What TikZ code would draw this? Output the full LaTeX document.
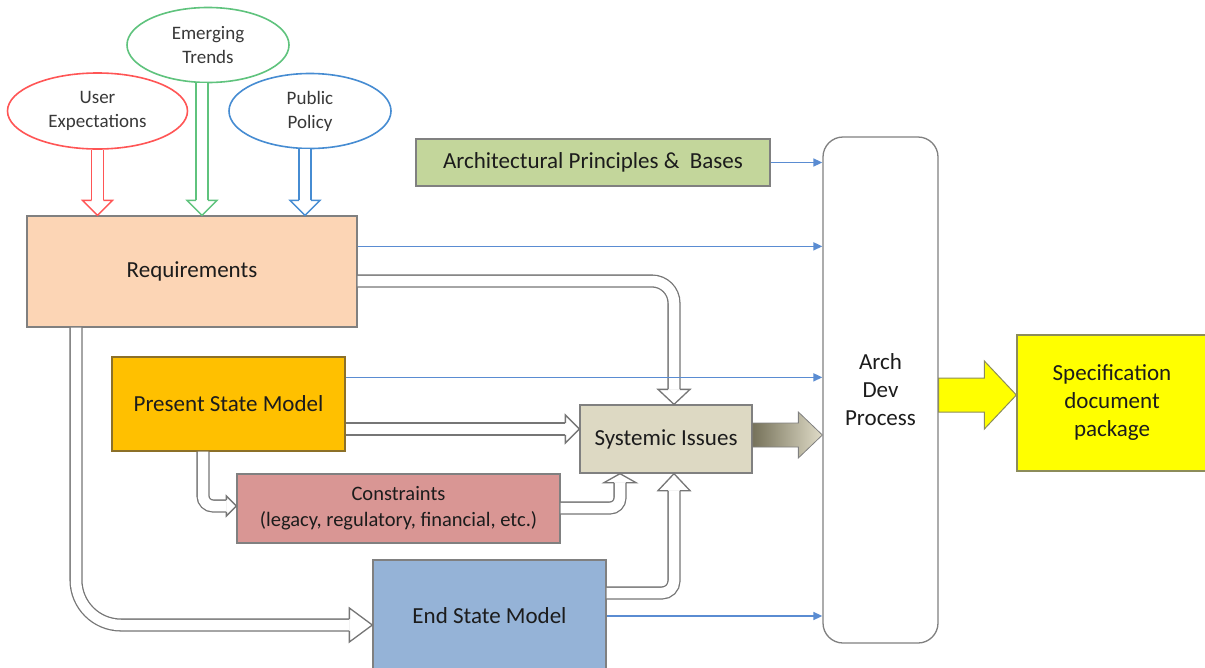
\documentclass[tikz,border=0pt]{standalone}
\usepackage{fontspec}
\setmainfont{Carlito}
\usetikzlibrary{arrows.meta,calc,shapes.geometric}

\definecolor{textdark}{RGB}{28,28,28}
\definecolor{textsoft}{RGB}{56,56,56}
\definecolor{boxline}{RGB}{128,128,128}
\definecolor{shaftgray}{RGB}{118,118,118}
\definecolor{reqfill}{RGB}{252,213,181}
\definecolor{archfill}{RGB}{195,214,155}
\definecolor{psmfill}{RGB}{255,192,0}
\definecolor{psmline}{RGB}{140,112,40}
\definecolor{sysfill}{RGB}{221,217,195}
\definecolor{confill}{RGB}{217,150,148}
\definecolor{esmfill}{RGB}{149,179,215}
\definecolor{specfill}{RGB}{255,255,0}
\definecolor{specline}{RGB}{140,140,90}
\definecolor{uered}{RGB}{255,85,85}
\definecolor{etgreen}{RGB}{95,195,125}
\definecolor{ppblue}{RGB}{70,140,210}
\definecolor{feedblue}{RGB}{90,140,210}
\definecolor{gradlo}{RGB}{118,114,90}
\definecolor{gradhi}{RGB}{224,220,200}

% hollow arrow head: #1 colour, #2 tip, #3 direction, #4 length, #5 half width, #6 half shaft
\newcommand\hollowtip[6]{%
  \begin{scope}[shift={(#2)}, rotate=#3]
    \fill[white] (0,0) -- (-#4,#5) -- (-#4,-#5) -- cycle;
    \draw[draw=#1, line width=1.3pt, line join=miter]
      (-#4,#6) -- (-#4,#5) -- (0,0) -- (-#4,-#5) -- (-#4,-#6);
  \end{scope}}

\begin{document}
\begin{tikzpicture}[x=1pt,y=-1pt,
  box/.style={draw=boxline, line width=1.3pt, text=textdark, align=center,
    inner sep=2pt, font=\fontsize{23}{28}\selectfont},
  bubble/.style={ellipse, draw=#1, line width=1.6pt, fill=white, text=textsoft,
    align=center, inner sep=0pt, font=\fontsize{19}{24}\selectfont},
  feed/.style={draw=feedblue, line width=1.6pt, -{Triangle[length=9pt,width=8pt]}},
  hollow/.style={draw=#1, line width=1.3pt, double=white, double distance=10.5pt},
  hollow/.default=shaftgray,
]
\useasboundingbox (0,0) rectangle (1205,667);
\fill[white] (0,0) rectangle (1205,667);

% input bubbles
\node[bubble=uered, minimum width=180pt, minimum height=76pt] (ue) at (97.5,111) {User\\Expectations};
\node[bubble=etgreen, minimum width=162pt, minimum height=75pt] (et) at (208,45) {Emerging\\Trends};
\node[bubble=ppblue, minimum width=162pt, minimum height=75pt] (pp) at (310,111) {Public\\Policy};

% boxes
\node[box, fill=reqfill, minimum width=330pt, minimum height=111pt] (req) at (192,271.5) {Requirements};
\node[box, fill=archfill, minimum width=354pt, minimum height=47pt] (arch) at (593,162.5) {Architectural Principles \&\ \ Bases};
\node[box, fill=white, rounded corners=20pt, minimum width=115pt, minimum height=506pt] (adp) at (880.5,390) {Arch\\Dev\\Process};
\node[box, draw=specline, fill=specfill, minimum width=190pt, minimum height=136pt] (spec) at (1112,403) {Specification\\document\\package};
\node[box, draw=psmline, fill=psmfill, minimum width=233pt, minimum height=94pt] (psm) at (228.5,404) {Present State Model};
\node[box, fill=sysfill, minimum width=172pt, minimum height=68pt] (sys) at (666,439) {Systemic Issues};
\node[box, fill=confill, minimum width=323pt, minimum height=69pt, font=\fontsize{20.5}{26}\selectfont] (con) at (398.5,508.5) {Constraints\\(legacy, regulatory, financial, etc.)};
\node[box, fill=esmfill, minimum width=233pt, minimum height=112pt] (esm) at (489.5,616) {End State Model};

% bubbles feeding the requirements
\coordinate (t1) at (ue.south |- req.north);
\draw[hollow=uered] (ue.south) -- ($(t1)+(0,-15)$);
\hollowtip{uered}{t1}{-90}{15}{15}{5.9}
\coordinate (e0) at ($(et.south)+(-6,0)$);
\coordinate (t2) at (e0 |- req.north);
\draw[hollow=etgreen] (e0) -- ($(t2)+(0,-15)$);
\hollowtip{etgreen}{t2}{-90}{15}{15}{5.9}
\coordinate (q0) at ($(pp.south)+(-5,0)$);
\coordinate (t3) at (q0 |- req.north);
\draw[hollow=ppblue] (q0) -- ($(t3)+(0,-15)$);
\hollowtip{ppblue}{t3}{-90}{15}{15}{5.9}

% requirements -> systemic issues
\coordinate (rs) at ($(req.east)+(0,9.5)$);
\coordinate (s1) at ($(sys.north)+(8,0)$);
\draw[hollow, rounded corners=22pt] (rs) -- (s1 |- rs) -- ($(s1)+(0,-15)$);
\hollowtip{shaftgray}{s1}{-90}{15}{16}{5.9}

% present state -> systemic issues
\coordinate (ps) at ($(psm.east)+(0,25)$);
\coordinate (s0) at (sys.west |- ps);
\draw[hollow] (ps) -- ($(s0)+(-14,0)$);
\hollowtip{shaftgray}{s0}{0}{14}{14}{5.9}

% present state -> constraints
\coordinate (p1) at ($(psm.south)+(-25.5,0)$);
\coordinate (c1) at ($(con.west)+(0,-2.5)$);
\draw[hollow, rounded corners=10pt] (p1) -- (p1 |- c1) -- ($(c1)+(-10,0)$);
\hollowtip{shaftgray}{c1}{0}{10}{10}{5.9}

% constraints -> systemic issues
\coordinate (c2) at ($(con.east)+(0,-0.5)$);
\coordinate (s2) at ($(sys.south)+(-46,0)$);
\draw[hollow, rounded corners=10pt] (c2) -- (s2 |- c2) -- ($(s2)+(0,9)$);
\hollowtip{shaftgray}{s2}{90}{9}{16}{5.9}

% end state -> systemic issues
\coordinate (e2) at ($(esm.east)+(0,-23)$);
\coordinate (s3) at ($(sys.south)+(8,0)$);
\draw[hollow, rounded corners=12pt] (e2) -- (s3 |- e2) -- ($(s3)+(0,17)$);
\hollowtip{shaftgray}{s3}{90}{17}{16}{5.9}

% requirements -> end state
\coordinate (r2) at ($(req.south)+(-116,0)$);
\coordinate (e3) at ($(esm.west)+(0,9)$);
\draw[hollow, rounded corners=45pt] (r2) -- (r2 |- e3) -- ($(e3)+(-23,0)$);
\hollowtip{shaftgray}{e3}{0}{23}{17}{5.9}

% direct inputs to the development process
\draw[feed] (arch.east) -- (adp.west |- arch.east);
\coordinate (r3) at ($(req.north east)+(0,31)$);
\draw[feed] (r3) -- (adp.west |- r3);
\coordinate (p3) at ($(psm.north east)+(0,21)$);
\draw[feed] (p3) -- (adp.west |- p3);
\draw[feed] (esm.east) -- (adp.west |- esm.east);

% systemic issues -> process (shaded block arrow)
\coordinate (g0) at ($(sys.east)+(0,-4)$);
\coordinate (g1) at (adp.west |- g0);
\shade[left color=gradlo, right color=gradhi, draw=boxline, line width=0.8pt, line join=miter]
  ($(g0)+(0,-12)$) -- ($(g1)+(-24,-12)$) -- ($(g1)+(-24,-23)$) -- (g1)
  -- ($(g1)+(-24,23)$) -- ($(g1)+(-24,12)$) -- ($(g0)+(0,12)$) -- cycle;

% process -> specification (yellow block arrow)
\coordinate (y0) at ($(adp.east)+(0,5)$);
\coordinate (y1) at (spec.west |- y0);
\draw[fill=specfill, draw=specline, line width=1pt, line join=miter]
  ($(y0)+(0,-17)$) -- ($(y1)+(-32,-17)$) -- ($(y1)+(-32,-34)$) -- (y1)
  -- ($(y1)+(-32,34)$) -- ($(y1)+(-32,17)$) -- ($(y0)+(0,17)$) -- cycle;
\end{tikzpicture}
\end{document}
